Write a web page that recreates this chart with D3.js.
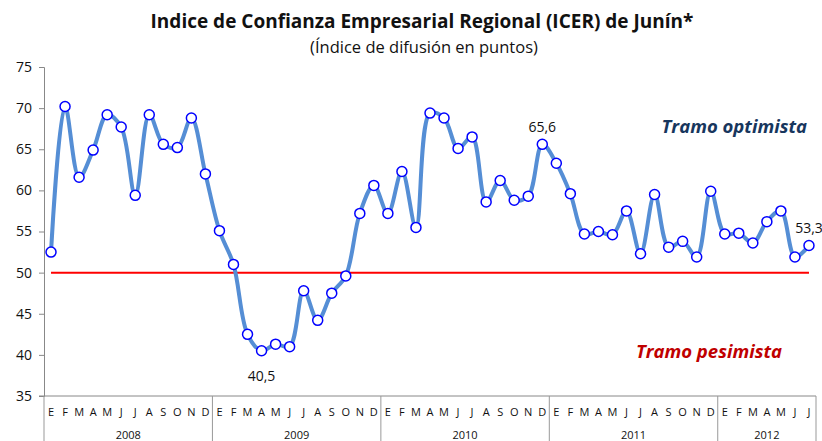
<!DOCTYPE html>
<html>
<head>
<meta charset="utf-8">
<script src="https://cdn.jsdelivr.net/npm/d3@7"></script>
<style>
  body { margin: 0; background: #fff; }
  text { font-family: "Open Sans", sans-serif; fill: #111; }
</style>
</head>
<body>
<svg id="chart" width="822" height="441"></svg>
<script>
// ICER Junin, monthly, Jan 2008 - Jul 2012
var years = ["2008", "2009", "2010", "2011", "2012"];
var monthLetters = ["E", "F", "M", "A", "M", "J", "J", "A", "S", "O", "N", "D"];
var monthsPerYear = [12, 12, 12, 12, 7];

var icer = [
  52.5, 70.2, 61.6, 64.9, 69.2, 67.7, 59.4, 69.2, 65.6, 65.2, 68.8, 62.0,
  55.1, 51.0, 42.5, 40.5, 41.3, 41.0, 47.8, 44.2, 47.5, 49.6, 57.2, 60.6,
  57.2, 62.3, 55.5, 69.4, 68.8, 65.1, 66.5, 58.6, 61.2, 58.8, 59.3, 65.6,
  63.3, 59.6, 54.7, 55.0, 54.6, 57.5, 52.3, 59.5, 53.1, 53.8, 51.9, 59.9,
  54.7, 54.8, 53.6, 56.2, 57.5, 51.9, 53.3
];
var yTicks = [35, 40, 45, 50, 55, 60, 65, 70, 75];
var threshold = 50;
// points that carry a value label
var labelled = [{i: 15, dy: 30}, {i: 35, dy: -12}, {i: 54, dy: -12}];

(function() {
  var svg = d3.select("#chart");
  var pLeft = 44, pRight = 816, pTop = 67, pBottom = 396;

  // build the category list
  var cats = [];
  var yearStart = [];
  years.forEach(function(yr, yi) {
    yearStart.push(cats.length);
    for (var m = 0; m < monthsPerYear[yi]; m++) {
      cats.push({key: yr + "-" + m, letter: monthLetters[m], year: yr});
    }
  });

  var x = d3.scaleBand().domain(cats.map(function(c) { return c.key; }))
    .range([pLeft, pRight]);
  var y = d3.scaleLinear().domain([35, 75]).range([pBottom, pTop]);
  var cx = function(i) { return x(cats[i].key) + x.bandwidth() / 2; };

  // titles
  svg.append("text").attr("x", 422).attr("y", 28).attr("text-anchor", "middle")
    .style("font-size", "19px").style("font-weight", "bold")
    .text("Indice de Confianza Empresarial Regional (ICER) de Junín*");
  svg.append("text").attr("x", 424).attr("y", 53).attr("text-anchor", "middle")
    .style("font-size", "16.5px")
    .text("(Índice de difusión en puntos)");

  // y axis
  var yAxis = svg.append("g").attr("transform", "translate(" + pLeft + ",0)")
    .call(d3.axisLeft(y).tickValues(yTicks).tickSize(5).tickPadding(7));
  yAxis.select(".domain").attr("stroke", "#888");
  yAxis.selectAll(".tick line").attr("stroke", "#888");
  yAxis.selectAll(".tick text").style("font-size", "14px")
    .style("font-family", "'Open Sans', sans-serif").attr("fill", "#111");

  // x axis line
  svg.append("line").attr("x1", pLeft - 5).attr("x2", pRight)
    .attr("y1", pBottom).attr("y2", pBottom).attr("stroke", "#888");

  // year separators
  var seps = yearStart.map(function(s) { return x(cats[s].key); }).concat([pRight]);
  svg.selectAll(".sep").data(seps).enter().append("line")
    .attr("class", "sep")
    .attr("x1", function(d) { return d; }).attr("x2", function(d) { return d; })
    .attr("y1", pBottom).attr("y2", 441)
    .attr("stroke", "#999");

  // month letters
  svg.selectAll(".mlab").data(cats).enter().append("text")
    .attr("class", "mlab")
    .attr("x", function(d, i) { return cx(i); })
    .attr("y", 416).attr("text-anchor", "middle")
    .style("font-size", "11px")
    .text(function(d) { return d.letter; });

  // year labels
  svg.selectAll(".ylab").data(years).enter().append("text")
    .attr("class", "ylab")
    .attr("x", function(d, yi) { return (seps[yi] + seps[yi + 1]) / 2; })
    .attr("y", 439).attr("text-anchor", "middle")
    .style("font-size", "11px")
    .text(function(d) { return d; });

  // threshold line
  svg.append("line")
    .attr("x1", cx(0)).attr("x2", cx(cats.length - 1))
    .attr("y1", y(threshold)).attr("y2", y(threshold))
    .attr("stroke", "#ff0000").attr("stroke-width", 2);

  // series
  var line = d3.line()
    .x(function(d, i) { return cx(i); })
    .y(function(d) { return y(d); })
    .curve(d3.curveCatmullRom.alpha(0.5));
  svg.append("path").datum(icer).attr("d", line)
    .attr("fill", "none").attr("stroke", "#558ed5").attr("stroke-width", 4);

  svg.selectAll(".pt").data(icer).enter().append("circle")
    .attr("class", "pt")
    .attr("cx", function(d, i) { return cx(i); })
    .attr("cy", function(d) { return y(d); })
    .attr("r", 5)
    .attr("fill", "#fff").attr("stroke", "#0000ff").attr("stroke-width", 1.5);

  // value labels
  svg.selectAll(".vlab").data(labelled).enter().append("text")
    .attr("class", "vlab")
    .attr("x", function(d) { return cx(d.i); })
    .attr("y", function(d) { return y(icer[d.i]) + d.dy; })
    .attr("text-anchor", "middle")
    .style("font-size", "14px")
    .text(function(d) { return d3.format(".1f")(icer[d.i]).replace(".", ","); });

  // zone captions
  svg.append("text").attr("x", 807).attr("y", 133).attr("text-anchor", "end")
    .style("font-size", "18.5px").style("font-weight", "bold").style("font-style", "italic")
    .style("fill", "#17365d")
    .text("Tramo optimista");
  svg.append("text").attr("x", 782).attr("y", 358).attr("text-anchor", "end")
    .style("font-size", "18.5px").style("font-weight", "bold").style("font-style", "italic")
    .style("fill", "#c00000")
    .text("Tramo pesimista");
})();
</script>
</body>
</html>
